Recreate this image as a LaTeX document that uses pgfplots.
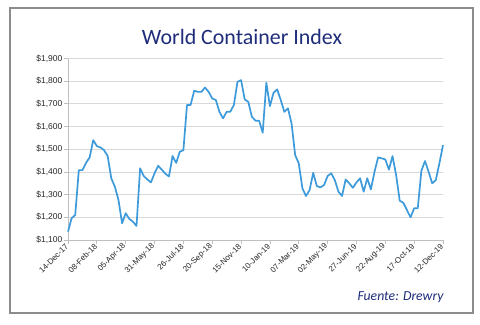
\documentclass[border=0pt]{standalone}
\usepackage{pgfplots}
\pgfplotsset{compat=1.18}
\usepackage{fontspec}
\setmainfont{Liberation Sans}
\newfontfamily\carlito{Carlito}
\definecolor{titleblue}{HTML}{1F2D7B}
\definecolor{lineblue}{HTML}{3D9BDB}
\definecolor{framegray}{HTML}{8C8C8C}
\definecolor{gridgray}{HTML}{D9D9D9}
\definecolor{axisgray}{HTML}{BFBFBF}
\pgfplotstableread{
w v
0 1137
1 1196
2 1210
3 1408
4 1408
5 1440
6 1464
7 1540
8 1514
9 1508
10 1496
11 1470
12 1372
13 1335
14 1276
15 1174
16 1218
17 1193
18 1181
19 1162
20 1416
21 1382
22 1367
23 1354
24 1394
25 1427
26 1410
27 1392
28 1380
29 1470
30 1440
31 1489
32 1496
33 1695
34 1695
35 1758
36 1753
37 1753
38 1772
39 1753
40 1724
41 1717
42 1665
43 1636
44 1665
45 1665
46 1695
47 1797
48 1805
49 1720
50 1709
51 1643
52 1626
53 1626
54 1573
55 1793
56 1690
57 1749
58 1764
59 1717
60 1665
61 1680
62 1614
63 1474
64 1438
65 1328
66 1294
67 1320
68 1396
69 1338
70 1332
71 1342
72 1382
73 1394
74 1364
75 1313
76 1294
77 1367
78 1350
79 1330
80 1354
81 1372
82 1313
83 1372
84 1323
85 1400
86 1464
87 1460
88 1455
89 1410
90 1470
91 1386
92 1273
93 1264
94 1232
95 1200
96 1240
97 1240
98 1405
99 1448
100 1401
101 1350
102 1364
103 1438
104 1518
}\wci
\begin{document}
\begin{tikzpicture}[x=1bp,y=1bp]
\useasboundingbox[fill=white] (0,0) rectangle (480,324);
\draw[framegray, line width=2.8bp] (10,11) rectangle (473,316);
\node[font=\carlito\fontsize{22}{26}\selectfont, text=titleblue] at (242,287) {World Container Index};
\node[font=\carlito\itshape\fontsize{13.8}{16}\selectfont, text=titleblue, anchor=east] at (447,27) {Fuente: Drewry};
\begin{axis}[
  at={(68bp,84bp)}, anchor=south west,
  scale only axis, width=375bp, height=181.5bp,
  xmin=0, xmax=104, ymin=1100, ymax=1900,
  xtick={0,8,...,104},
  xticklabels={14-Dec-17,08-Feb-18,05-Apr-18,31-May-18,26-Jul-18,20-Sep-18,15-Nov-18,10-Jan-19,07-Mar-19,02-May-19,27-Jun-19,22-Aug-19,17-Oct-19,12-Dec-19},
  ytick={1100,1200,...,1900},
  yticklabels={{\$1,100},{\$1,200},{\$1,300},{\$1,400},{\$1,500},{\$1,600},{\$1,700},{\$1,800},{\$1,900}},
  x tick label style={font=\fontsize{8}{9}\selectfont, rotate=45, anchor=east, text=black!85, inner sep=1.5bp},
  y tick label style={font=\fontsize{8.5}{10}\selectfont, text=black!85, inner sep=1.5bp},
  ymajorgrids, major grid style={gridgray, line width=0.8bp},
  axis x line*=bottom, axis y line*=left,
  axis line style={axisgray, line width=0.8bp, -},
  tick style={axisgray, line width=0.8bp},
  tick align=outside, major tick length=4bp,
  clip=false,
]
\addplot[lineblue, line width=1.7bp, line join=round, no marks] table[x=w, y=v] {\wci};
\end{axis}
\end{tikzpicture}
\end{document}
